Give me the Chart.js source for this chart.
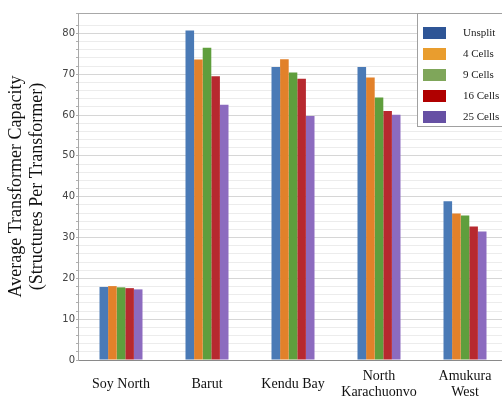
<!DOCTYPE html>
<html>
<head>
<meta charset="utf-8">
<script src="https://cdn.jsdelivr.net/npm/chart.js@4.4.1/dist/chart.umd.min.js"></script>
<style>
  html, body { margin: 0; padding: 0; background: #ffffff; overflow: hidden; width: 502px; height: 397px; }
  #wrap { width: 508px; height: 397px; }
</style>
</head>
<body>
<div id="wrap"><canvas id="c" width="508" height="397"></canvas></div>
<script>
// ---- data ----
const categories = ["Soy North", "Barut", "Kendu Bay", ["North", "Karachuonvo"], ["Amukura", "West"]];
const seriesLabels = ["Unsplit", "4 Cells", "9 Cells", "16 Cells", "25 Cells"];
const unsplit = [17.9, 80.7, 71.8, 71.8, 38.9];
const cells4  = [18.1, 73.6, 73.7, 69.2, 35.9];
const cells9  = [17.8, 76.5, 70.4, 64.3, 35.4];
const cells16 = [17.6, 69.5, 68.9, 61.0, 32.7];
const cells25 = [17.3, 62.5, 59.8, 60.1, 31.5];
const yTickLabels = [0, 10, 20, 30, 40, 50, 60, 70, 80];

const barColors = ["#4a7ab6", "#e2812a", "#5f9e3d", "#b7292f", "#8c6bbf"];
const legendColors = ["#2e5596", "#e99d2e", "#7fa65a", "#b00000", "#6650a4"];
const seriesValues = [unsplit, cells4, cells9, cells16, cells25];

const boxLegend = {
  id: 'boxLegend',
  afterDraw(chart) {
    const ctx = chart.ctx;
    const a = chart.chartArea;
    const x0 = a.right - 91, y0 = a.top;
    ctx.save();
    ctx.fillStyle = '#ffffff';
    ctx.fillRect(x0, y0, 100, 113);
    ctx.strokeStyle = '#a0a0a0';
    ctx.lineWidth = 1;
    ctx.strokeRect(x0 + 0.5, y0 + 0.5, 100, 113);
    ctx.font = '11px "Liberation Serif", "Times New Roman", serif';
    ctx.textBaseline = 'middle';
    ctx.textAlign = 'left';
    seriesLabels.forEach((lab, i) => {
      const cy = y0 + 20 + i * 21;
      ctx.fillStyle = legendColors[i];
      ctx.fillRect(x0 + 6, cy - 6, 23, 12);
      ctx.fillStyle = '#222';
      ctx.fillText(lab, x0 + 46, cy);
    });
    ctx.restore();
  }
};

new Chart(document.getElementById('c'), {
  type: 'bar',
  data: {
    labels: categories,
    datasets: seriesLabels.map((lab, i) => ({
      label: lab,
      data: seriesValues[i],
      backgroundColor: barColors[i],
      borderWidth: 0,
      categoryPercentage: 0.5,
      barPercentage: 1.0
    }))
  },
  options: {
    responsive: false,
    animation: false,
    layout: { padding: { top: 13, right: 0, bottom: 0, left: 0 } },
    plugins: { legend: { display: false }, tooltip: { enabled: false } },
    scales: {
      x: {
        grid: { display: false },
        border: { display: true, color: '#8a8a8a', width: 1 },
        ticks: {
          color: '#111',
          font: { family: '"Liberation Serif", "Times New Roman", serif', size: 14 },
          crossAlign: 'center',
          padding: 8,
          maxRotation: 0,
          autoSkip: false
        },
        afterFit(scale) { scale.height = 37; }
      },
      y: {
        min: 0,
        max: 85,
        ticks: {
          stepSize: 2,
          autoSkip: false,
          color: '#444',
          font: { family: '"DejaVu Sans", sans-serif', size: 10 },
          padding: 1,
          callback: (v) => (yTickLabels.includes(v) ? String(v) : '')
        },
        grid: {
          color: (ctx) => {
            const v = ctx.tick ? ctx.tick.value : 0;
            if (v === 85) return '#a8a8a8';
            return v % 10 === 0 ? '#d6d6d6' : '#ececec';
          },
          tickColor: '#b0b0b0',
          tickLength: 2,
          lineWidth: 1
        },
        border: { display: true, color: '#a8a8a8', width: 1 },
        title: {
          display: true,
          text: ["Average Transformer Capacity", "(Structures Per Transformer)"],
          color: '#111',
          font: { family: '"Liberation Serif", "Times New Roman", serif', size: 18, lineHeight: 1.2 },
          padding: { top: 5, bottom: 0 }
        },
        afterFit(scale) { scale.width = 78; }
      }
    }
  },
  plugins: [boxLegend]
});
</script>
</body>
</html>
